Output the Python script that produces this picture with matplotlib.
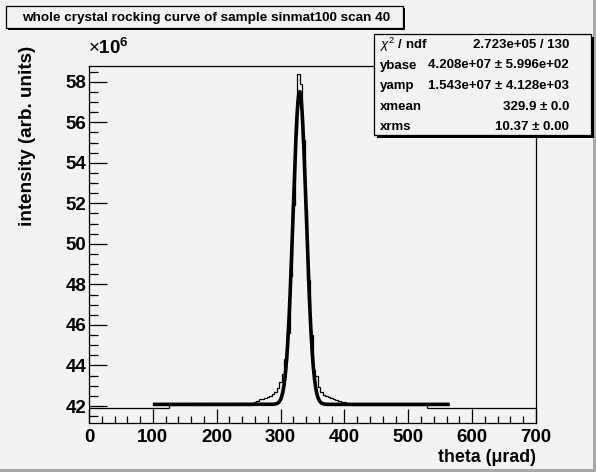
import numpy as np
import matplotlib
matplotlib.use("Agg")
import matplotlib.pyplot as plt
from matplotlib.patches import Rectangle
from matplotlib.ticker import MultipleLocator

# ---------------- data ----------------
# histogram (step outline): bin edges in micro-rad, values in units of 1e6
hist_edges = [0, 125, 254, 258, 262, 266, 270, 274, 278, 282, 286, 290, 294, 298,
              302, 306, 310, 314, 318, 322, 326, 330, 334, 338, 342, 346, 350,
              354, 358, 362, 366, 370, 374, 378, 382, 386, 390, 394, 398, 402,
              406, 410, 530, 700]
hist_values = [41.92, 42.07, 42.15, 42.21, 42.27, 42.33, 42.35, 42.38, 42.42, 42.50,
               42.58, 42.70, 42.87, 43.20, 43.60, 44.30, 45.60, 48.40, 51.90, 55.40,
               58.37, 57.90, 55.10, 51.70, 48.20, 45.50, 43.80, 43.50, 42.95, 42.70,
               42.55, 42.48, 42.43, 42.38, 42.34, 42.30, 42.26, 42.22, 42.18, 42.12,
               42.08, 42.07, 41.89]

# fit result (gaussian + base), as given in the stats box
ybase = 4.208e7
yamp = 1.543e7
xmean = 329.9
xrms = 10.37
fit_range = (100, 565)

title = "whole crystal rocking curve of sample sinmat100 scan 40"
stats_labels = [r"$\chi^{2}$ / ndf", "ybase", "yamp", "xmean", "xrms"]
stats_values = ["2.723e+05 / 130", "4.208e+07 \u00b1 5.996e+02",
                "1.543e+07 \u00b1 4.128e+03", "329.9 \u00b1 0.0", "10.37 \u00b1 0.00"]
xticks = [0, 100, 200, 300, 400, 500, 600, 700]
yticks = [42, 44, 46, 48, 50, 52, 54, 56, 58]
xlabel = "theta (\u03bcrad)"
ylabel = "intensity (arb. units)"

# ---------------- style ----------------
W, H = 596, 472
DPI = 100
BG = "#f3f3f3"
plt.rcParams["font.family"] = ["Liberation Sans", "DejaVu Sans"]
plt.rcParams["mathtext.fontset"] = "custom"
plt.rcParams["mathtext.rm"] = "Liberation Sans"
plt.rcParams["mathtext.it"] = "Liberation Sans:italic"
plt.rcParams["mathtext.bf"] = "Liberation Sans:bold"

fig = plt.figure(figsize=(W / DPI, H / DPI), dpi=DPI, facecolor=BG)

def fx(px):
    return px / W

def fy(py):
    return 1 - py / H

# axes frame in pixels
L, R, T, B = 89, 536, 65.7, 423.3
ax = fig.add_axes([fx(L), fy(B), fx(R) - fx(L), fy(T) - fy(B)])
ax.set_facecolor(BG)

ax.stairs(hist_values, hist_edges, baseline=None, color="black", lw=0.9)

xf = np.linspace(fit_range[0], fit_range[1], 1500)
yf = (ybase + yamp * np.exp(-0.5 * ((xf - xmean) / xrms) ** 2)) / 1e6
ax.plot(xf, yf, color="black", lw=2.6, solid_capstyle="butt")

ax.set_xlim(0, 700)
ax.set_ylim(41.147, 58.79)
ax.xaxis.set_minor_locator(MultipleLocator(20))
ax.yaxis.set_minor_locator(MultipleLocator(0.5))
ax.tick_params(axis="x", which="major", direction="in", length=10, width=0.9, pad=4)
ax.tick_params(axis="x", which="minor", direction="in", length=5, width=0.9)
ax.tick_params(axis="y", which="major", direction="in", length=13, width=0.9, pad=2)
ax.tick_params(axis="y", which="minor", direction="in", length=6.5, width=0.9)
ax.set_yticks(yticks)
ax.set_yticklabels([str(v) for v in yticks], fontweight="bold", fontsize=13.5)
ax.set_xticks(xticks)
ax.set_xticklabels([str(v) for v in xticks], fontweight="bold", fontsize=13.5)
for s in ax.spines.values():
    s.set_linewidth(0.9)

# exponent label
fig.text(fx(88), fy(54), r"$\times\mathbf{10}^{\mathbf{6}}$", fontsize=13.5,
         ha="left", va="baseline")

# axis titles
fig.text(fx(536), fy(457), xlabel, fontsize=12.8, fontweight="bold",
         ha="right", va="center")
fig.text(fx(28), fy(46), ylabel, fontsize=13.6, fontweight="bold",
         rotation=90, ha="center", va="top")

# boxes with shadow
def box(x0, y0, x1, y1, sh):
    fig.patches.append(Rectangle((fx(x0 + sh), fy(y1 + sh)), fx(x1 - x0), fy(y0) - fy(y1),
                                 transform=fig.transFigure, facecolor="black",
                                 edgecolor="none", zorder=5))
    fig.patches.append(Rectangle((fx(x0), fy(y1)), fx(x1 - x0), fy(y0) - fy(y1),
                                 transform=fig.transFigure, facecolor=BG,
                                 edgecolor="black", lw=0.9, zorder=6))

box(6, 6, 403, 28, 2)
fig.text(fx(22), fy(17.5), title, fontsize=9.7, fontweight="bold",
         ha="left", va="center", zorder=10)

# stats box
box(374, 34, 591, 135, 3)
row_y = [45, 65.5, 86, 106.5, 127]
for lab, val, yy in zip(stats_labels, stats_values, row_y):
    fig.text(fx(380), fy(yy), lab, fontsize=9.5, fontweight="bold",
             ha="left", va="center", zorder=10)
    fig.text(fx(569), fy(yy), val, fontsize=9.5, fontweight="bold",
             ha="right", va="center", zorder=10)

# canvas bevel
fig.patches.append(Rectangle((0, 0), 1, fy(469), transform=fig.transFigure,
                             facecolor="#a8a8a8", edgecolor="none", zorder=1))
fig.patches.append(Rectangle((fx(593), 0), fx(3), 1, transform=fig.transFigure,
                             facecolor="#a8a8a8", edgecolor="none", zorder=1))

fig.savefig("out.png", dpi=DPI, facecolor=BG)
